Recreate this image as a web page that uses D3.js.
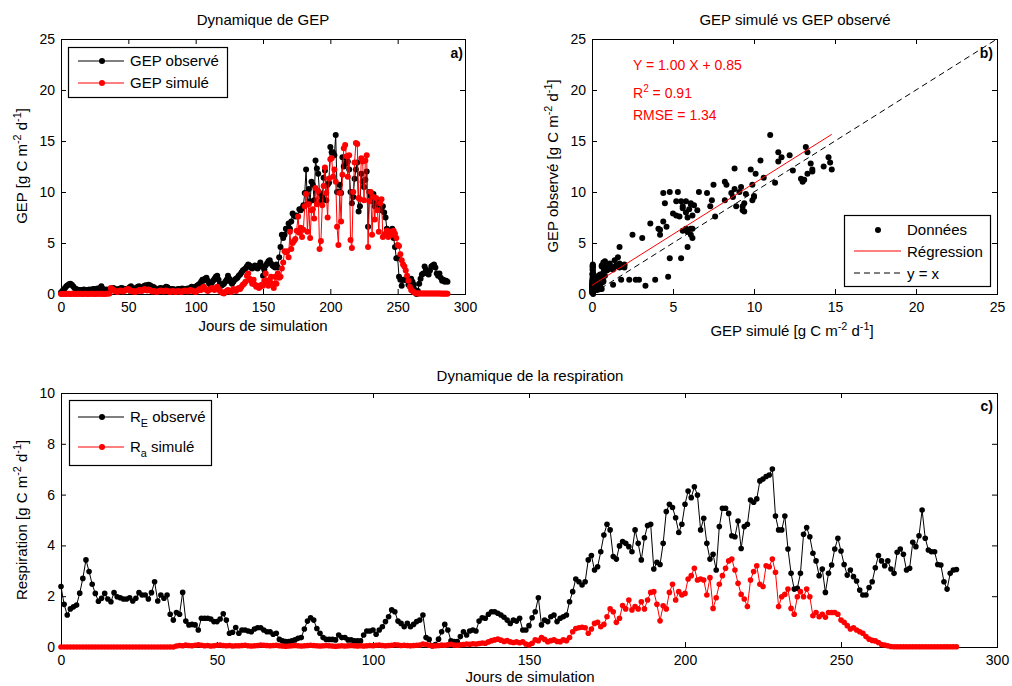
<!DOCTYPE html>
<html><head><meta charset="utf-8">
<script src="https://cdn.jsdelivr.net/npm/d3@7"></script>
<style>body{margin:0;background:#fff}svg{display:block}</style>
</head><body><svg id="c" width="1012" height="686"></svg>
<script>
// ---------- DATA ----------
// GEP observé (g C m-2 d-1), one value per simulation day (0..287)
const gepObs = [
0.15,0.30,0.45,0.60,0.75,0.85,0.95,1.00,0.90,0.75,
0.60,0.50,0.45,0.40,0.40,0.35,0.40,0.45,0.40,0.35,
0.40,0.45,0.40,0.45,0.50,0.45,0.50,0.55,0.50,0.60,
0.75,0.50,0.45,0.40,0.45,0.40,0.45,0.50,0.55,0.60,
0.50,0.40,0.45,0.50,0.55,0.60,0.55,0.50,0.45,0.50,
0.55,0.65,0.75,0.60,0.50,0.55,0.60,0.70,0.75,0.65,
0.60,0.70,0.80,0.85,0.80,0.90,0.85,0.75,0.70,0.65,
0.55,0.50,0.50,0.55,0.60,0.55,0.50,0.60,0.70,0.65,
0.55,0.50,0.45,0.50,0.45,0.40,0.45,0.50,0.45,0.50,
0.55,0.50,0.45,0.50,0.55,0.50,0.60,0.70,0.65,0.60,
0.70,0.80,0.90,1.00,1.20,1.40,1.30,1.50,1.60,1.30,
1.00,0.90,1.10,1.30,1.50,1.70,1.80,1.40,1.00,0.80,
0.90,1.00,1.20,1.40,1.80,1.50,1.20,1.00,1.20,1.40,
1.50,1.60,1.80,1.90,2.10,2.30,2.40,2.50,2.70,2.90,
2.80,2.60,2.50,2.70,2.80,2.60,2.50,2.80,3.10,2.70,
1.80,2.40,2.80,3.00,3.20,3.30,3.00,2.80,2.70,2.60,
2.90,2.60,3.60,4.60,5.80,5.50,5.80,6.40,6.30,6.90,
6.40,7.10,7.90,7.70,7.60,7.70,7.60,8.30,8.20,8.40,
8.70,9.90,12.20,8.80,10.30,9.10,11.00,10.70,9.20,13.10,
12.30,11.80,9.90,9.10,9.50,11.40,12.10,9.20,10.70,10.90,
14.40,13.90,13.90,13.60,15.60,10.00,10.00,10.70,9.90,13.40,
12.50,13.40,12.80,13.00,12.20,10.00,8.90,9.50,11.30,12.20,
12.90,8.10,8.60,11.80,11.00,10.50,11.20,12.00,6.60,10.00,
9.60,9.10,9.80,8.60,8.90,9.20,8.90,8.60,8.20,8.60,
8.00,7.50,6.40,6.20,6.10,5.80,6.40,5.50,4.60,3.50,
3.50,1.70,1.40,0.80,1.40,1.40,1.40,1.40,0.90,1.20,
1.50,1.20,0.90,0.40,0.00,0.30,1.00,1.50,1.90,2.00,
2.70,2.40,2.00,1.90,2.30,2.70,2.80,2.90,2.60,2.00,
1.80,2.00,1.60,1.30,1.40,1.20,1.30,1.20];

// GEP simulé
const gepSim = [
0.00,0.01,0.02,0.01,0.02,0.03,0.02,0.01,0.02,0.03,
0.02,0.01,0.02,0.03,0.02,0.02,0.01,0.02,0.03,0.02,
0.01,0.02,0.02,0.03,0.02,0.01,0.02,0.03,0.02,0.02,
0.03,0.02,0.01,0.02,0.03,0.04,0.05,0.60,0.50,0.40,
0.30,0.25,0.20,0.30,0.35,0.30,0.25,0.30,0.40,0.45,
0.50,0.40,0.30,0.25,0.30,0.20,0.25,0.30,0.40,0.35,
0.30,0.40,0.50,0.40,0.35,0.45,0.40,0.30,0.25,0.30,
0.25,0.20,0.25,0.30,0.35,0.30,0.25,0.30,0.35,0.30,
0.25,0.20,0.25,0.30,0.25,0.20,0.25,0.30,0.25,0.20,
0.25,0.30,0.35,0.30,0.25,0.30,0.40,0.35,0.30,0.25,
0.20,0.30,0.40,0.50,0.40,0.60,0.70,0.50,0.40,0.30,
0.40,0.50,0.60,0.50,0.40,0.60,0.70,0.50,0.30,0.20,
0.10,0.05,0.20,0.30,0.40,0.30,0.20,0.30,0.50,0.40,
0.30,0.50,0.60,0.50,0.70,0.90,1.00,1.20,1.80,2.00,
1.50,1.30,1.00,1.40,0.90,0.70,0.80,0.60,0.70,0.90,
0.80,1.30,2.00,1.10,0.80,1.40,1.70,1.00,0.60,1.70,
1.00,2.00,1.60,1.70,2.50,3.10,4.20,4.10,4.20,3.60,
6.10,4.40,5.00,5.20,5.40,6.20,7.60,6.00,6.50,5.60,
6.30,8.60,9.80,6.10,8.80,5.50,8.20,8.30,7.40,10.40,
8.80,10.10,4.40,5.20,8.70,10.60,12.40,9.90,7.50,11.30,
13.20,13.30,11.50,12.20,11.00,6.60,4.80,9.90,7.10,11.70,
14.30,14.60,13.50,11.50,13.60,5.30,4.50,10.00,12.90,14.80,
14.70,9.40,9.30,13.30,13.00,9.20,13.10,13.60,4.60,9.10,
10.00,5.80,9.50,7.30,9.40,8.20,6.10,8.90,9.30,5.60,
5.80,5.90,6.20,5.60,5.90,6.10,5.80,6.20,5.90,5.50,
4.80,4.70,3.90,3.30,2.90,2.70,2.30,1.80,1.30,0.70,
0.40,0.30,0.20,0.10,0.07,0.05,0.05,0.04,0.05,0.04,
0.05,0.04,0.05,0.04,0.05,0.06,0.04,0.05,0.04,0.05,
0.04,0.05,0.04,0.03,0.04,0.03,0.04,0.03];

// R_E observé
const reObs = [
2.38,1.68,1.26,1.50,1.58,1.65,2.12,2.70,3.43,2.97,
2.47,2.11,1.80,1.92,2.11,1.89,1.78,2.14,1.98,1.94,
1.89,1.89,1.94,1.81,1.92,2.14,2.05,2.05,1.89,2.14,
2.57,1.81,2.05,1.92,2.05,1.29,1.06,1.36,1.29,2.15,
1.02,0.87,0.89,0.87,0.67,1.13,1.13,1.13,1.10,1.00,
1.00,1.10,1.31,1.06,0.54,0.58,0.77,0.54,0.67,0.67,
0.63,0.60,0.71,0.76,0.76,0.67,0.60,0.60,0.50,0.54,
0.30,0.24,0.21,0.21,0.24,0.28,0.34,0.37,0.71,1.02,
1.15,1.06,0.73,0.54,0.37,0.30,0.30,0.30,0.28,0.47,
0.37,0.37,0.28,0.28,0.24,0.24,0.24,0.47,0.63,0.63,
0.67,0.50,0.67,0.80,1.00,1.19,1.46,1.39,1.02,0.93,
0.80,0.93,0.80,0.89,1.00,1.06,1.26,0.37,0.30,0.05,
0.10,0.31,0.60,0.89,0.67,0.24,0.21,0.21,0.41,0.60,
0.47,0.63,0.67,0.63,1.02,1.15,1.13,1.29,1.39,1.39,
1.33,1.26,1.17,1.06,0.93,1.06,1.02,1.13,0.67,0.67,
0.84,1.15,1.39,1.94,0.87,1.06,1.00,1.19,1.26,1.00,
1.13,1.19,1.26,1.78,2.18,2.68,2.57,2.44,2.57,3.43,
3.60,3.03,3.16,3.75,4.41,4.83,4.61,3.56,3.46,3.98,
4.15,4.08,3.95,3.75,4.61,4.08,3.43,4.30,4.78,4.83,
3.07,3.33,3.25,4.08,5.33,5.62,5.49,5.09,4.51,4.83,
5.62,6.14,5.88,6.31,5.98,4.61,5.07,4.08,3.46,3.65,
3.03,4.74,5.46,5.46,5.26,4.38,4.34,4.96,3.88,4.74,
4.83,5.79,5.70,5.83,6.54,6.61,6.71,6.77,7.01,5.16,
4.61,4.61,5.16,3.86,2.90,2.28,2.31,2.90,4.44,4.70,
4.34,3.69,3.39,2.81,3.07,2.15,2.90,3.23,3.86,4.28,
3.78,3.25,2.83,3.03,2.77,2.60,2.24,2.05,2.05,2.34,
2.57,3.12,3.60,3.39,3.20,3.39,3.07,2.90,3.73,3.86,
3.65,3.03,3.10,4.12,3.95,4.38,5.39,4.28,3.82,3.75,
3.75,3.25,3.23,2.57,2.28,2.90,3.03,3.05];

// R_a simulé
const raSim = [
0,0,0,0,0,0,0,0,0,0,
0,0,0,0,0,0,0,0,0,0,
0,0,0,0,0,0,0,0,0,0,
0,0,0,0,0,0,0,0.04,0.06,0.05,
0.08,0.06,0.05,0.07,0.09,0.07,0.05,0.06,0.04,0.05,
0.07,0.08,0.06,0.05,0.06,0.04,0.05,0.05,0.06,0.07,
0.05,0.04,0.05,0.06,0.08,0.07,0.06,0.05,0.06,0.07,
0.05,0.04,0.03,0.04,0.05,0.06,0.05,0.04,0.05,0.06,
0.07,0.06,0.05,0.04,0.05,0.06,0.05,0.04,0.03,0.04,
0.05,0.04,0.05,0.06,0.05,0.04,0.05,0.04,0.05,0.06,
0.05,0.07,0.08,0.06,0.05,0.06,0.07,0.09,0.08,0.06,
0.07,0.06,0.05,0.06,0.07,0.08,0.12,0.10,0.07,0.04,
0.05,0.06,0.08,0.07,0.09,0.11,0.08,0.07,0.09,0.10,
0.12,0.11,0.13,0.12,0.14,0.16,0.15,0.20,0.25,0.28,
0.31,0.27,0.22,0.25,0.20,0.18,0.20,0.17,0.20,0.12,
0.08,0.15,0.28,0.25,0.37,0.30,0.21,0.25,0.28,0.22,
0.21,0.28,0.25,0.37,0.60,0.73,0.76,0.78,0.76,0.54,
0.71,0.93,0.97,0.80,0.89,1.19,1.50,1.39,0.97,1.13,
1.63,1.50,1.85,1.46,1.59,1.50,1.78,1.50,1.85,2.15,
2.18,1.68,1.03,1.62,1.50,2.15,2.47,1.85,2.18,2.05,
2.11,2.68,2.81,3.10,2.64,2.68,2.64,2.05,2.73,1.52,
1.94,2.47,2.81,3.10,3.39,3.46,3.03,2.51,2.07,1.89,
1.59,2.64,2.97,3.20,2.47,2.38,3.20,3.16,3.46,2.94,
1.59,1.98,2.07,2.28,1.52,1.29,1.98,2.18,1.98,2.28,
1.98,1.23,1.36,1.19,1.29,1.17,1.36,1.36,1.36,1.29,
1.06,0.97,0.84,0.71,0.76,0.67,0.60,0.54,0.41,0.31,
0.26,0.24,0.18,0.10,0.08,0.05,0.02,0.01,0.01,0.01,
0.01,0.01,0.01,0.01,0.01,0.01,0.01,0.01,0.01,0.01,
0.01,0.01,0.01,0.01,0.01,0.01,0.01,0.01];

// Regression shown in panel b
const fitSlope = 1.00, fitIntercept = 0.85, fitR2 = 0.91, fitRMSE = 1.34;

// Ticks
const dayTicks = [0,50,100,150,200,250,300];
const gepTicks = [0,5,10,15,20,25];
const respTicks = [0,2,4,6,8,10];

// ---------- DRAW ----------
const FONT = '"Liberation Sans", Arial, Helvetica, sans-serif';
const RED = '#ff0000';
const svg = d3.select('#c').attr('font-family', FONT);

function rich(sel, parts, size) {
  let shift = 0;
  parts.forEach(([s, k]) => {
    const off = k === 'sup' ? -0.42 * size : k === 'sub' ? 0.32 * size : 0;
    sel.append('tspan').attr('dy', off - shift)
      .attr('font-size', k === 'n' ? size : size * 0.72).text(s);
    shift = off;
  });
}
function unitParts(prefix) {
  return [[prefix + ' [g C m', 'n'], ['-2', 'sup'], [' d', 'n'], ['-1', 'sup'], [']', 'n']];
}

function axes(g, x, y, xt, yt) {
  const [x0, x1] = x.range(), [y1, y0] = y.range();
  g.append('g').attr('transform', `translate(0,${y1})`)
    .call(d3.axisBottom(x).tickValues(xt).tickSizeInner(-5).tickSizeOuter(0).tickPadding(8).tickFormat(d3.format('d')));
  g.append('g').attr('transform', `translate(0,${y0})`)
    .call(d3.axisTop(x).tickValues(xt).tickSizeInner(-5).tickSizeOuter(0).tickFormat(''));
  g.append('g').attr('transform', `translate(${x0},0)`)
    .call(d3.axisLeft(y).tickValues(yt).tickSizeInner(-5).tickSizeOuter(0).tickPadding(6).tickFormat(d3.format('d')));
  g.append('g').attr('transform', `translate(${x1},0)`)
    .call(d3.axisRight(y).tickValues(yt).tickSizeInner(-5).tickSizeOuter(0).tickFormat(''));
  g.selectAll('.domain').remove();
  g.selectAll('.tick line').attr('stroke', '#000');
  g.selectAll('.tick text').attr('font-size', 14).attr('font-family', FONT).attr('fill', '#000');
  g.append('rect').attr('x', x0 + 0.5).attr('y', y0 + 0.5).attr('width', x1 - x0).attr('height', y1 - y0)
    .attr('fill', 'none').attr('stroke', '#000');
}

function series(g, x, y, data, color, r) {
  const line = d3.line().x((d, i) => x(i)).y(d => y(d));
  g.append('path').attr('d', line(data)).attr('fill', 'none').attr('stroke', color).attr('stroke-width', 1);
  g.append('g').selectAll('circle').data(data).join('circle')
    .attr('cx', (d, i) => x(i)).attr('cy', d => y(d)).attr('r', r).attr('fill', color);
}

function legendBox(g, x, y, w, h) {
  g.append('rect').attr('x', x + 0.5).attr('y', y + 0.5).attr('width', w).attr('height', h)
    .attr('fill', '#fff').attr('stroke', '#000').attr('stroke-width', 1.2);
}
function legendLine(g, y, color, parts) {
  g.append('line').attr('x1', 78).attr('x2', 124).attr('y1', y).attr('y2', y).attr('stroke', color);
  g.append('circle').attr('cx', 102).attr('cy', y).attr('r', 3).attr('fill', color);
  const t = g.append('text').attr('x', 130).attr('y', y + 5).attr('font-size', 15).attr('fill', '#000');
  rich(t, parts, 15);
}

function title(txt, cx, y) {
  svg.append('text').attr('x', cx).attr('y', y).attr('text-anchor', 'middle').attr('font-size', 15).text(txt);
}

// ---- Panel a ----
const xa = d3.scaleLinear().domain([0, 300]).range([61, 465]);
const ya = d3.scaleLinear().domain([0, 25]).range([294, 39]);
const ga = svg.append('g');
axes(ga, xa, ya, dayTicks, gepTicks);
series(ga, xa, ya, gepObs, '#000', 3);
series(ga, xa, ya, gepSim, RED, 3);
title('Dynamique de GEP', 263, 25);
ga.append('text').attr('x', 463).attr('y', 58).attr('text-anchor', 'end').attr('font-size', 14).attr('font-weight', 'bold').text('a)');
legendBox(ga, 68, 47, 159, 50);
legendLine(ga, 61, '#000', [['GEP observé', 'n']]);
legendLine(ga, 83, RED, [['GEP simulé', 'n']]);
ga.append('text').attr('x', 263).attr('y', 331).attr('text-anchor', 'middle').attr('font-size', 15).text('Jours de simulation');
rich(ga.append('text').attr('transform', 'translate(27,166) rotate(-90)').attr('text-anchor', 'middle').attr('font-size', 15), unitParts('GEP'), 15);

// ---- Panel b ----
const xb = d3.scaleLinear().domain([0, 25]).range([592, 997]);
const yb = d3.scaleLinear().domain([0, 25]).range([294, 39]);
const gb = svg.append('g');
axes(gb, xb, yb, gepTicks, gepTicks);
gb.append('line').attr('x1', xb(0)).attr('y1', yb(0)).attr('x2', xb(25)).attr('y2', yb(25))
  .attr('stroke', '#000').attr('stroke-dasharray', '6,4');
const pairs = gepSim.map((s, i) => [s, gepObs[i]]);
gb.append('g').selectAll('circle').data(pairs).join('circle')
  .attr('cx', d => xb(d[0])).attr('cy', d => yb(d[1])).attr('r', 3).attr('fill', '#000');
const simMax = d3.max(gepSim);
gb.append('line').attr('x1', xb(0)).attr('y1', yb(fitIntercept)).attr('x2', xb(simMax)).attr('y2', yb(fitSlope * simMax + fitIntercept))
  .attr('stroke', RED).attr('stroke-width', 1);
title('GEP simulé vs GEP observé', 795, 25);
gb.append('text').attr('x', 993).attr('y', 58).attr('text-anchor', 'end').attr('font-size', 14).attr('font-weight', 'bold').text('b)');
gb.append('text').attr('x', 633).attr('y', 70).attr('font-size', 14).attr('fill', RED)
  .text(`Y = ${fitSlope.toFixed(2)} X + ${fitIntercept.toFixed(2)}`);
rich(gb.append('text').attr('x', 633).attr('y', 98).attr('font-size', 14).attr('fill', RED),
  [['R', 'n'], ['2', 'sup'], [` = ${fitR2.toFixed(2)}`, 'n']], 14);
gb.append('text').attr('x', 633).attr('y', 120).attr('font-size', 14).attr('fill', RED).text(`RMSE = ${fitRMSE.toFixed(2)}`);
// legend b
legendBox(gb, 844, 215, 146, 71);
gb.append('circle').attr('cx', 878).attr('cy', 230).attr('r', 3).attr('fill', '#000');
gb.append('line').attr('x1', 854).attr('x2', 901).attr('y1', 251).attr('y2', 251).attr('stroke', RED);
gb.append('line').attr('x1', 854).attr('x2', 901).attr('y1', 273).attr('y2', 273).attr('stroke', '#000').attr('stroke-dasharray', '6,4');
[['Données', 235], ['Régression', 257], ['y = x', 279]].forEach(([t, y]) =>
  gb.append('text').attr('x', 907).attr('y', y).attr('font-size', 15).text(t));
rich(gb.append('text').attr('x', 792).attr('y', 336).attr('text-anchor', 'middle').attr('font-size', 15), unitParts('GEP simulé'), 15);
rich(gb.append('text').attr('transform', 'translate(558,166) rotate(-90)').attr('text-anchor', 'middle').attr('font-size', 15), unitParts('GEP observé'), 15);

// ---- Panel c ----
const xc = d3.scaleLinear().domain([0, 300]).range([61, 997]);
const yc = d3.scaleLinear().domain([0, 10]).range([647, 393]);
const gc = svg.append('g');
axes(gc, xc, yc, dayTicks, respTicks);
series(gc, xc, yc, reObs, '#000', 2.8);
series(gc, xc, yc, raSim, RED, 2.8);
title('Dynamique de la respiration', 530, 381);
gc.append('text').attr('x', 993).attr('y', 411).attr('text-anchor', 'end').attr('font-size', 14).attr('font-weight', 'bold').text('c)');
legendBox(gc, 69, 400, 142, 65);
legendLine(gc, 417, '#000', [['R', 'n'], ['E', 'sub'], [' observé', 'n']]);
legendLine(gc, 447, RED, [['R', 'n'], ['a', 'sub'], [' simulé', 'n']]);
gc.append('text').attr('x', 530).attr('y', 682).attr('text-anchor', 'middle').attr('font-size', 15).text('Jours de simulation');
rich(gc.append('text').attr('transform', 'translate(27,520) rotate(-90)').attr('text-anchor', 'middle').attr('font-size', 15), unitParts('Respiration'), 15);
</script>
</body></html>
